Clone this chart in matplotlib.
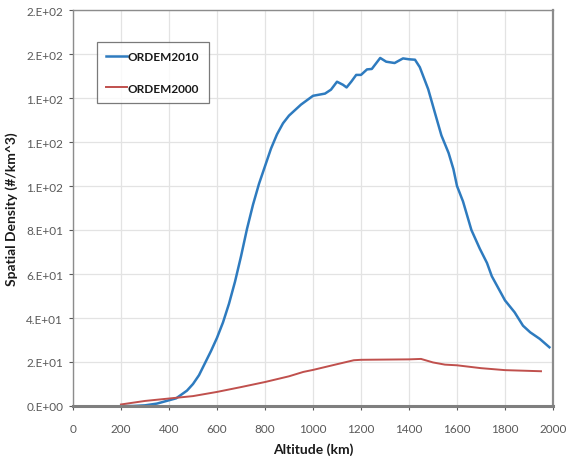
import math
import matplotlib
matplotlib.use("Agg")
import matplotlib.pyplot as plt
from matplotlib.ticker import FuncFormatter, MultipleLocator

plt.rcParams['font.family'] = ['Lato', 'DejaVu Sans']

# ORDEM2010 spatial density vs altitude
alt_2010 = [200, 250, 300, 350, 400, 430, 475, 500, 525, 550, 575, 600, 625, 650,
            675, 700, 725, 750, 775, 800, 825, 850, 875, 900, 925, 950, 975, 1000,
            1025, 1050, 1075, 1100, 1125, 1140, 1160, 1180, 1200, 1225, 1245, 1280,
            1305, 1340, 1375, 1400, 1425, 1445, 1480, 1510, 1535, 1565, 1585, 1600,
            1625, 1660, 1695, 1725, 1745, 1770, 1800, 1840, 1875, 1905, 1945, 1985]
dens_2010 = [0.0, 0.0, 0.3, 1.1, 2.6, 3.5, 7.0, 10.0, 14.0, 19.5, 25.0, 31.0, 38.0, 46.5,
             56.5, 68.0, 80.5, 91.5, 101.0, 109.0, 117.0, 123.5, 128.5, 132.0, 134.5, 137.0, 139.0, 141.0,
             141.5, 142.0, 143.8, 147.4, 146.0, 144.8, 147.5, 150.5, 150.5, 153.0, 153.2, 158.2,
             156.5, 155.9, 158.0, 157.6, 157.4, 154.0, 144.0, 132.5, 123.0, 115.0, 107.7, 100.0,
             93.0, 80.0, 71.5, 65.0, 59.0, 54.0, 48.0, 42.6, 36.5, 33.5, 30.5, 26.7]

# ORDEM2000 spatial density vs altitude
alt_2000 = [200, 300, 400, 500, 600, 700, 800, 900, 960, 1000, 1100, 1170, 1200,
            1300, 1400, 1450, 1500, 1550, 1600, 1700, 1800, 1950]
dens_2000 = [0.7, 2.3, 3.4, 4.5, 6.4, 8.6, 10.9, 13.5, 15.5, 16.4, 19.0, 20.8, 21.0,
             21.1, 21.2, 21.4, 19.8, 18.8, 18.5, 17.2, 16.3, 15.8]

series_names = ["ORDEM2010", "ORDEM2000"]
series_colors = ["#2E7BBF", "#C0504D"]


def excel_sci(v, pos=None):
    """Format like Excel's 0.E+00 number format."""
    if v == 0:
        return "0.E+00"
    e = int(math.floor(math.log10(abs(v))))
    m = int(round(v / 10 ** e))
    if m == 10:
        m, e = 1, e + 1
    return f"{m}.E{'+' if e >= 0 else '-'}{abs(e):02d}"


fig = plt.figure(figsize=(5.66, 4.60), dpi=100)
ax = fig.add_axes([73 / 566, 1 - 407 / 460, 480 / 566, 396 / 460])

ax.plot(alt_2010, dens_2010, color=series_colors[0], lw=1.8, label=series_names[0])
ax.plot(alt_2000, dens_2000, color=series_colors[1], lw=1.4, label=series_names[1])

ax.set_xlim(0, 2000)
ax.set_ylim(0, 180)
ax.xaxis.set_major_locator(MultipleLocator(200))
ax.yaxis.set_major_locator(MultipleLocator(20))
ax.yaxis.set_major_formatter(FuncFormatter(excel_sci))

ax.grid(True, color="#E3E3E3", lw=0.9)
ax.set_axisbelow(True)

for side in ("top", "right", "left"):
    ax.spines[side].set_color("#8C8C8C")
    ax.spines[side].set_linewidth(1.0)
ax.spines["right"].set_linewidth(1.6)
ax.spines["bottom"].set_color("#7F7F7F")
ax.spines["bottom"].set_linewidth(2.2)

ax.tick_params(axis="both", labelsize=8.5, colors="#595959", length=3, width=0.8,
               direction="out", pad=4)
ax.tick_params(axis="x", pad=9)

ax.set_xlabel("Altitude (km)", fontsize=10, fontweight="bold", color="#1A1A1A", labelpad=6)
ax.set_ylabel("Spatial Density (#/km^3)", fontsize=10, fontweight="bold", color="#1A1A1A", labelpad=6)

leg = ax.legend(loc="upper left", bbox_to_anchor=(24 / 480, 1 - 32 / 396),
                fontsize=8.5, frameon=True, fancybox=False, edgecolor="#595959",
                handlelength=1.7, handletextpad=0.1, labelspacing=1.7,
                borderpad=0.8, borderaxespad=0)
leg.get_frame().set_linewidth(0.9)
for t in leg.get_texts():
    t.set_fontweight("bold")
    t.set_color("#1A1A1A")

fig.savefig("out.png", dpi=100)
